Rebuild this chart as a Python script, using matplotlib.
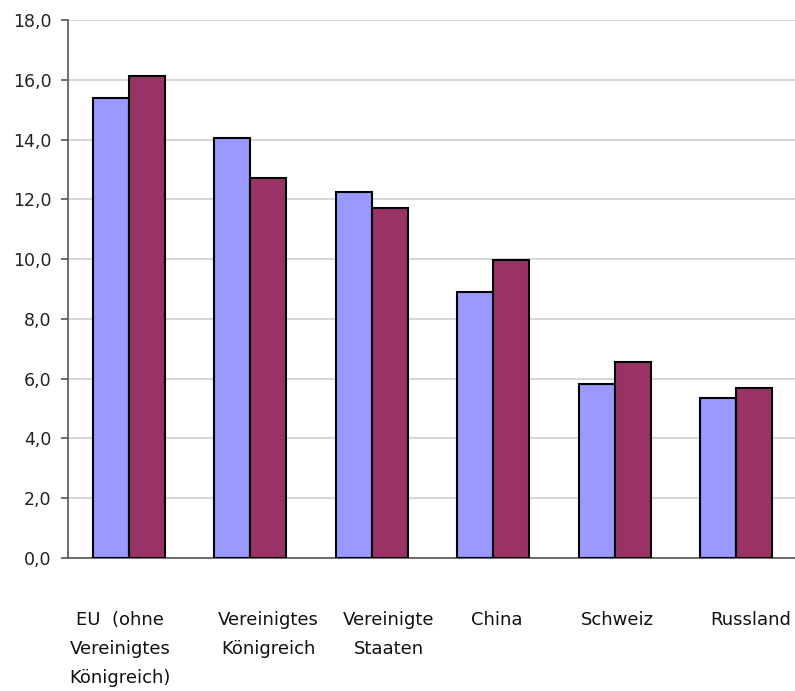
import matplotlib
matplotlib.use("Agg")
import matplotlib.pyplot as plt
import numpy as np

categories = ["EU  (ohne\nVereinigtes\nKönigreich)", "Vereinigtes\nKönigreich",
              "Vereinigte\nStaaten", "China", "Schweiz", "Russland"]
series_a = [15.4, 14.05, 12.25, 8.9, 5.82, 5.36]
series_b = [16.13, 12.72, 11.72, 9.97, 6.56, 5.68]
yticks = [0, 2, 4, 6, 8, 10, 12, 14, 16, 18]
ytick_labels = ["0,0", "2,0", "4,0", "6,0", "8,0", "10,0", "12,0", "14,0", "16,0", "18,0"]

plt.rcParams['font.family'] = ['DejaVu Sans']

fig = plt.figure(figsize=(7.95, 6.91), dpi=100)
ax = fig.add_axes([68/795, 1 - 558/691, 729/795, 538/691])

x = np.arange(len(categories))
w = 0.295
ax.bar(x - w/2, series_a, width=w, color="#9999FF", edgecolor="black", linewidth=1.5, zorder=3)
ax.bar(x + w/2, series_b, width=w, color="#993366", edgecolor="black", linewidth=1.5, zorder=3)

ax.set_xlim(-0.5, len(categories) - 0.5)
ax.set_ylim(0, 18)
ax.set_yticks(yticks)
ax.set_yticklabels(ytick_labels, fontsize=12.5, color="#222222")
ax.yaxis.grid(True, color="#d0d0d0", linewidth=1.2, zorder=0)
ax.set_xticks([])
ax.tick_params(axis="y", direction="out", length=5, color="#555555", width=1.2, pad=7)
for s in ["top", "right"]:
    ax.spines[s].set_visible(False)
ax.spines["left"].set_color("#555555")
ax.spines["bottom"].set_color("#555555")
ax.spines["left"].set_linewidth(1.2)
ax.spines["bottom"].set_linewidth(1.2)

offsets = [-0.07, 0.15, 0.14, 0.03, 0.02, 0.12]
trans = matplotlib.transforms.blended_transform_factory(ax.transData, fig.transFigure)
for i, (lab, off) in enumerate(zip(categories, offsets)):
    fig.text(i + off, 1 - 611/691, lab, transform=trans, ha="center", va="top",
             fontsize=13, color="#111111", linespacing=1.8, multialignment="center")

fig.savefig("out.png", dpi=100)
